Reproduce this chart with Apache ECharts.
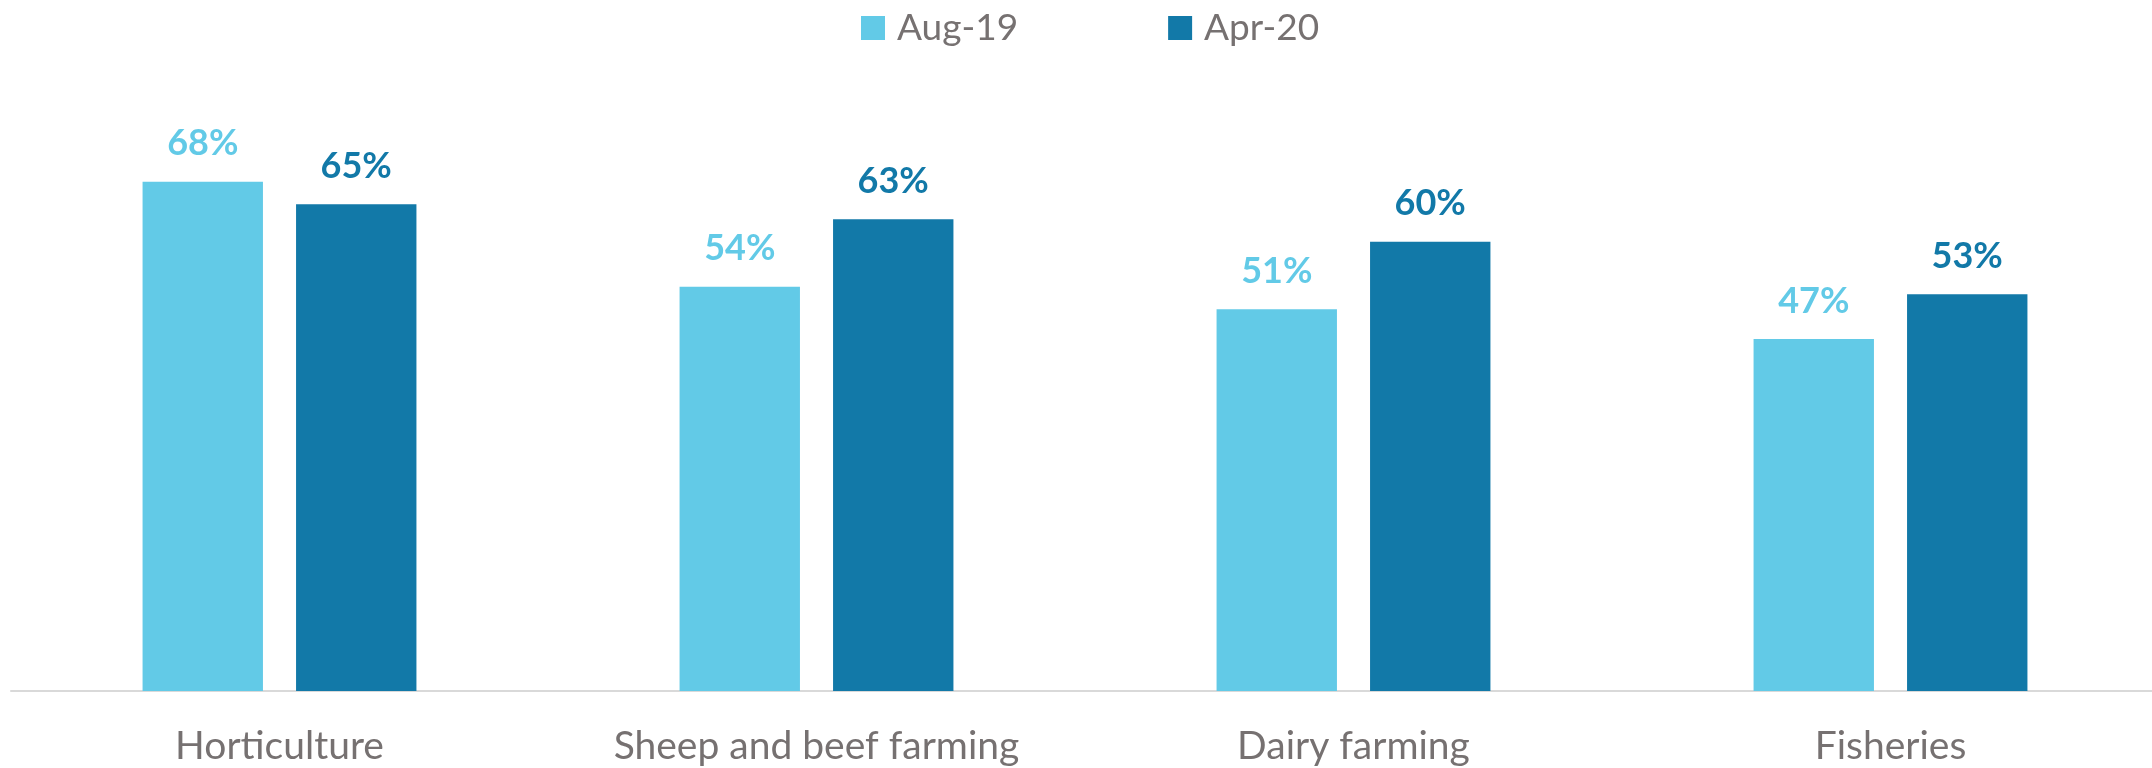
<!DOCTYPE html>
<html><head><meta charset="utf-8">
<script src="https://cdn.jsdelivr.net/npm/echarts@6/dist/echarts.min.js"></script>
<style>html,body{margin:0;padding:0;background:#fff;overflow:hidden}#c{width:2159px;height:768px}</style>
</head><body><div id="c"></div>
<script>
const categories = ['Horticulture', 'Sheep and beef farming', 'Dairy farming', 'Fisheries'];
const seriesNames = ['Aug-19', 'Apr-20'];
const aug19 = [68, 54, 51, 47];
const apr20 = [65, 63, 60, 53];
const colors = ['#62CAE7', '#1279A8'];
const font = 'Lato, "Open Sans", sans-serif';
const chart = echarts.init(document.getElementById('c'));
function mk(name, data, color) {
  return {
    name, type: 'bar', data,
    barGap: '27.5%', barCategoryGap: '49%',
    itemStyle: { color },
    label: { show: true, position: 'top', distance: 20, formatter: '{c}%', color, fontFamily: font, fontWeight: 'bold', fontSize: 36, lineHeight: 36 }
  };
}
chart.setOption({
  animation: false,
  textStyle: { fontFamily: font },
  legend: {
    left: 861, top: 8, padding: 0, icon: 'rect', itemWidth: 24, itemHeight: 24, itemGap: 150,
    textStyle: { color: '#767171', fontSize: 37, lineHeight: 40, fontFamily: font, padding: [0, 0, 0, 7] },
    data: seriesNames
  },
  grid: { left: 11, right: 0, top: 92, bottom: 77, containLabel: false },
  xAxis: {
    type: 'category', data: categories,
    axisLine: { lineStyle: { color: '#D9D9D9', width: 2 } },
    axisTick: { show: false },
    axisLabel: { color: '#767171', fontSize: 39, lineHeight: 39, margin: 36, fontFamily: font }
  },
  yAxis: { type: 'value', min: 0, max: 80, show: false, splitLine: { show: false } },
  series: [mk(seriesNames[0], aug19, colors[0]), mk(seriesNames[1], apr20, colors[1])]
});
</script></body></html>
